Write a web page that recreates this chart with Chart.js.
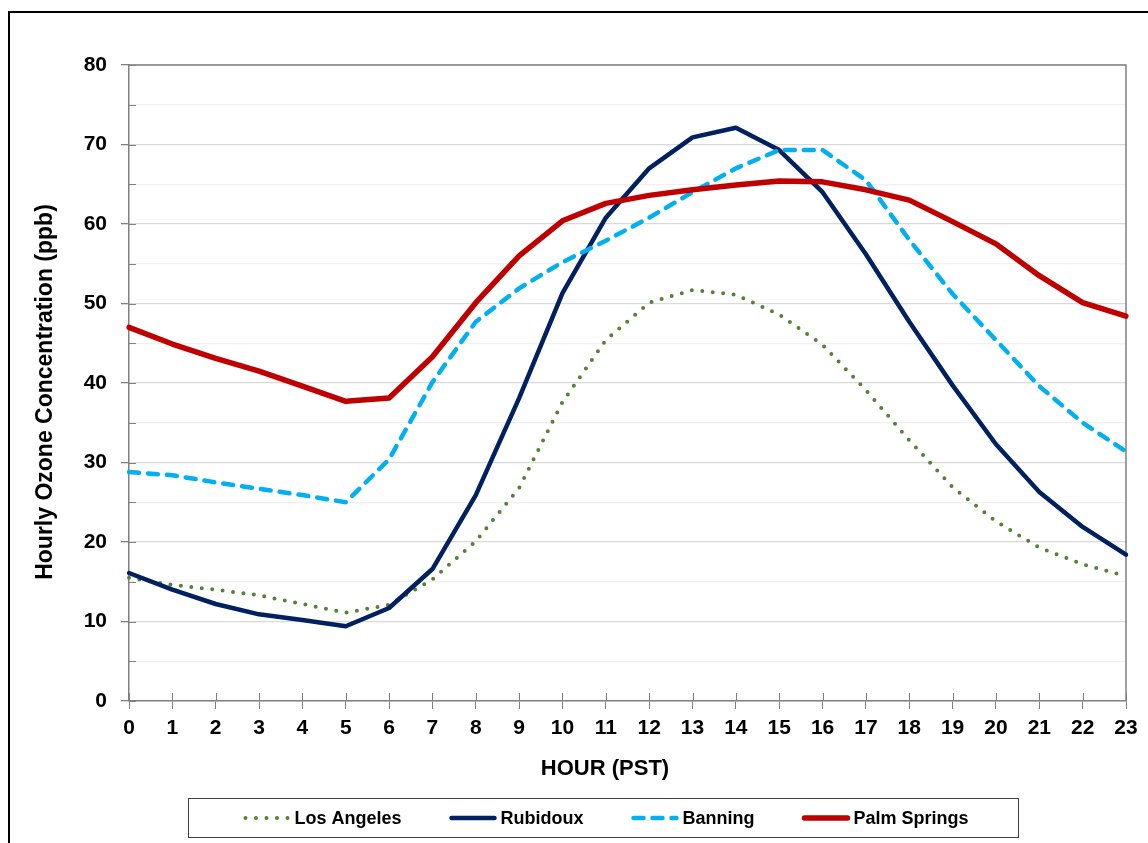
<!DOCTYPE html>
<html>
<head>
<meta charset="utf-8">
<script src="https://cdn.jsdelivr.net/npm/chart.js@4.4.1/dist/chart.umd.min.js"></script>
<style>
  html, body { margin: 0; padding: 0; background: #fff; }
  #wrap { width: 1148px; height: 843px; }
</style>
</head>
<body>
<div id="wrap"><canvas id="myChart" width="1148" height="843"></canvas></div>
<script>
// hours 0..23
var hours = ["0","1","2","3","4","5","6","7","8","9","10","11","12","13","14","15","16","17","18","19","20","21","22","23"];

var losAngeles  = [15.5, 14.6, 14.0, 13.3, 12.2, 11.1, 12.1, 15.3, 20.1, 26.8, 37.6, 45.4, 50.1, 51.7, 51.1, 48.6, 44.8, 39.1, 32.8, 26.9, 22.6, 19.3, 17.2, 15.7];
var rubidoux    = [16.1, 14.0, 12.2, 10.9, 10.2, 9.4, 11.7, 16.6, 25.9, 38.1, 51.3, 60.8, 67.0, 70.9, 72.1, 69.3, 64.0, 56.2, 47.7, 39.7, 32.3, 26.3, 21.9, 18.4];
var banning     = [28.8, 28.4, 27.5, 26.7, 25.9, 25.0, 30.4, 40.1, 47.7, 51.9, 55.2, 57.9, 60.8, 64.0, 67.0, 69.3, 69.3, 65.5, 58.0, 51.2, 45.4, 39.6, 35.0, 31.4];
var palmSprings = [47.0, 44.9, 43.1, 41.5, 39.6, 37.7, 38.1, 43.3, 50.1, 56.0, 60.4, 62.6, 63.6, 64.3, 64.9, 65.4, 65.3, 64.3, 63.0, 60.3, 57.5, 53.5, 50.1, 48.4];

var yTicks = [0, 10, 20, 30, 40, 50, 60, 70, 80];

var FONT = "'Liberation Sans', Arial, sans-serif";

// frame, plot border, inner tick marks, axis titles, legend
var decor = {
  id: "decor",
  beforeDatasetsDraw: function(chart) {
    var ctx = chart.ctx, a = chart.chartArea;
    var x = chart.scales.x, y = chart.scales.y;
    ctx.save();
    ctx.strokeStyle = "#808080";
    ctx.lineWidth = 1.5;
    ctx.beginPath();
    ctx.moveTo(a.left, a.top);
    ctx.lineTo(a.right, a.top);
    ctx.lineTo(a.right, a.bottom);
    ctx.stroke();
    ctx.lineWidth = 1;
    ctx.beginPath();
    y.ticks.forEach(function(t) {
      var py = Math.round(y.getPixelForValue(t.value)) + 0.5;
      ctx.moveTo(a.left, py);
      ctx.lineTo(a.left + 7, py);
    });
    x.ticks.forEach(function(t, i) {
      var px = Math.round(x.getPixelForTick(i)) + 0.5;
      ctx.moveTo(px, a.bottom);
      ctx.lineTo(px, a.bottom - 8);
    });
    ctx.stroke();
    ctx.restore();
  },
  afterDraw: function(chart) {
    var ctx = chart.ctx;
    ctx.save();
    // outer frame
    ctx.strokeStyle = "#000";
    ctx.lineWidth = 2;
    ctx.strokeRect(9, 12, 1160, 900);

    // axis titles
    ctx.fillStyle = "#000";
    ctx.textAlign = "center";
    ctx.textBaseline = "middle";
    ctx.font = "bold 22px " + FONT;
    ctx.fillText("HOUR (PST)", 605, 769);
    ctx.font = "bold 23px " + FONT;
    ctx.translate(46, 392);
    ctx.rotate(-Math.PI / 2);
    ctx.fillText("Hourly Ozone Concentration (ppb)", 0, 0);
    ctx.setTransform(1, 0, 0, 1, 0, 0);

    // legend
    ctx.strokeStyle = "#404040";
    ctx.lineWidth = 1;
    ctx.strokeRect(188.5, 798.5, 830, 39);
    ctx.font = "bold 18px " + FONT;
    ctx.textAlign = "left";
    var sampleW = 47, gap = 4, spacing = 48, cy = 818;
    var items = [0, 1, 2, 3].map(function(i) {
      var ds = chart.data.datasets[i];
      return { ds: ds, w: sampleW + gap + ctx.measureText(ds.label).width };
    });
    var total = items.reduce(function(s, it) { return s + it.w; }, 0) + spacing * 3;
    var px = 606 - total / 2;
    items.forEach(function(it) {
      var ds = it.ds;
      ctx.save();
      ctx.strokeStyle = ds.borderColor;
      ctx.lineWidth = ds.borderWidth;
      ctx.lineCap = ds.borderCapStyle || "butt";
      ctx.setLineDash(ds.borderDash || []);
      ctx.beginPath();
      ctx.moveTo(px + 2, cy);
      ctx.lineTo(px + sampleW - 2, cy);
      ctx.stroke();
      ctx.restore();
      ctx.fillStyle = "#000";
      ctx.fillText(ds.label, px + sampleW + gap, cy + 1);
      px += it.w + spacing;
    });
    ctx.restore();
  }
};

var ctx = document.getElementById("myChart").getContext("2d");
var myChart = new Chart(ctx, {
  type: "line",
  data: {
    labels: hours,
    datasets: [
      {
        label: "Los Angeles",
        data: losAngeles,
        borderColor: "#548235",
        borderWidth: 4,
        borderDash: [0, 10.5],
        borderCapStyle: "round",
        order: 4
      },
      {
        label: "Rubidoux",
        data: rubidoux,
        borderColor: "#002060",
        borderWidth: 4.5,
        borderCapStyle: "round",
        order: 3
      },
      {
        label: "Banning",
        data: banning,
        borderColor: "#00B0F0",
        borderWidth: 4.5,
        borderDash: [10, 9],
        borderCapStyle: "round",
        order: 2
      },
      {
        label: "Palm Springs",
        data: palmSprings,
        borderColor: "#C00000",
        borderWidth: 5.5,
        borderCapStyle: "round",
        order: 1
      }
    ]
  },
  options: {
    responsive: false,
    animation: false,
    devicePixelRatio: 1,
    elements: {
      point: { radius: 0, hoverRadius: 0 },
      line: { tension: 0, borderJoinStyle: "round", fill: false }
    },
    layout: { padding: { top: 65, right: 22, left: 0, bottom: 0 } },
    plugins: {
      legend: { display: false },
      tooltip: { enabled: false }
    },
    scales: {
      x: {
        type: "category",
        offset: false,
        border: { color: "#808080", width: 1.5 },
        grid: { drawOnChartArea: false, drawTicks: true, tickLength: 8, tickColor: "#808080" },
        ticks: {
          autoSkip: false, maxRotation: 0, padding: 7,
          color: "#000",
          font: { family: FONT, size: 21, weight: "bold" }
        },
        afterFit: function(s) { s.height = 142; }
      },
      y: {
        min: 0,
        max: 80,
        border: { color: "#808080", width: 1.5 },
        grid: {
          tickLength: 8,
          color: function(c) { return c.tick && c.tick.value % 10 === 0 ? "#d9d9d9" : "#f0f0f0"; },
          lineWidth: 1.3,
          tickColor: function(c) { return c.tick && c.tick.value % 10 === 0 ? "#808080" : "rgba(0,0,0,0)"; }
        },
        ticks: {
          stepSize: 5,
          padding: 14,
          color: "#000",
          font: { family: FONT, size: 21, weight: "bold" },
          callback: function(v) { return yTicks.indexOf(v) >= 0 ? v : ""; }
        },
        afterFit: function(s) { s.width = 129; }
      }
    }
  },
  plugins: [decor]
});
</script>
</body>
</html>
